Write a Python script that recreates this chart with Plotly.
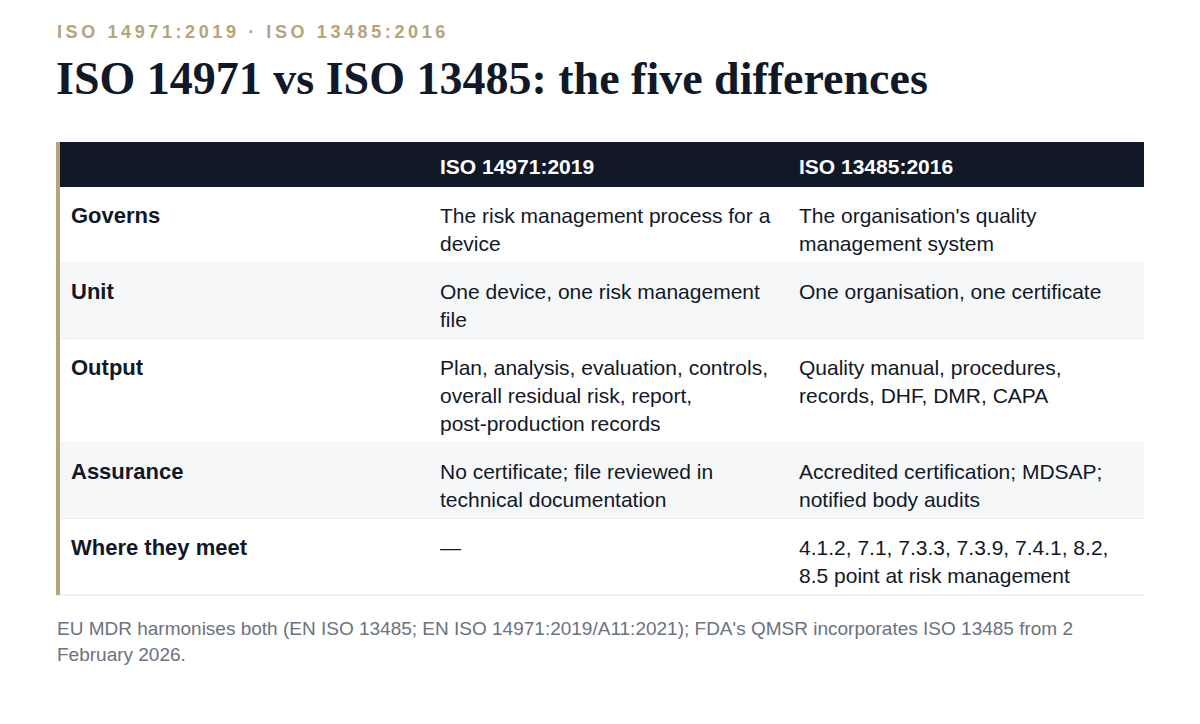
import plotly.graph_objects as go

eyebrow = "ISO 14971:2019 · ISO 13485:2016"
title = "ISO 14971 vs ISO 13485: the five differences"
headers = ["", "ISO 14971:2019", "ISO 13485:2016"]
rows = ["Governs", "Unit", "Output", "Assurance", "Where they meet"]
col_14971 = [
    ["The risk management process for a", "device"],
    ["One device, one risk management", "file"],
    ["Plan, analysis, evaluation, controls,", "overall residual risk, report,", "post-production records"],
    ["No certificate; file reviewed in", "technical documentation"],
    ["—"],
]
col_13485 = [
    ["The organisation's quality", "management system"],
    ["One organisation, one certificate"],
    ["Quality manual, procedures,", "records, DHF, DMR, CAPA"],
    ["Accredited certification; MDSAP;", "notified body audits"],
    ["4.1.2, 7.1, 7.3.3, 7.3.9, 7.4.1, 8.2,", "8.5 point at risk management"],
]
footnote = ["EU MDR harmonises both (EN ISO 13485; EN ISO 14971:2019/A11:2021); FDA's QMSR incorporates ISO 13485 from 2",
            "February 2026."]

W, H = 1200, 724
DX, DY = 9, 8  # page offset
GOLD = "#b3a47a"
DARK = "#111827"
SANS = "Liberation Sans, Arial, sans-serif"
LH = 28
x0, x1 = 57, 1145
col_x = [70, 439, 798]

fig = go.Figure()
fig.update_xaxes(range=[DX, W + DX], visible=False, fixedrange=True)
fig.update_yaxes(range=[H + DY, DY], visible=False, fixedrange=True)
shapes, ann = [], []

def text(x, y, s, size=21, color=DARK, bold=False, family=SANS):
    if bold:
        s = "<b>" + s + "</b>"
    ann.append(dict(x=x, y=y, text=s, xanchor="left", yanchor="middle", showarrow=False,
                    font=dict(size=size, color=color, family=family)))

# top rule
shapes.append(dict(type="rect", x0=0, x1=W + DX, y0=0, y1=5, fillcolor="#1f2430", line_width=0))
shapes.append(dict(type="rect", x0=0, x1=W + DX, y0=5, y1=8, fillcolor=GOLD, line_width=0))

text(56, 32, "\u2009".join(eyebrow), size=18, color=GOLD, bold=True)
text(55, 78, title, size=46, color=DARK, bold=True, family="Liberation Serif, Times New Roman, serif")

# header
top = 142
shapes.append(dict(type="rect", x0=x0, x1=x1, y0=top, y1=top + 45, fillcolor=DARK, line_width=0))
for cx, h in zip(col_x, headers):
    text(cx, top + 24, h, color="white", bold=True)
y = top + 45
for i, name in enumerate(rows):
    n = max(len(col_14971[i]), len(col_13485[i]))
    rh = n * LH + 20
    fill = "#f6f7f9" if i % 2 == 1 else "white"
    shapes.append(dict(type="rect", x0=x0, x1=x1, y0=y, y1=y + rh, fillcolor=fill, line_width=0))
    shapes.append(dict(type="line", x0=x0, x1=x1, y0=y + rh, y1=y + rh, line=dict(color="#e3e5e8", width=1)))
    text(col_x[0], y + LH, name, size=22, bold=True)
    for k, line in enumerate(col_14971[i]):
        text(col_x[1], y + LH + k * LH, line)
    for k, line in enumerate(col_13485[i]):
        text(col_x[2], y + LH + k * LH, line)
    y += rh
shapes.append(dict(type="rect", x0=x0, x1=x0 + 4, y0=top, y1=y, fillcolor=GOLD, line_width=0))

for k, line in enumerate(footnote):
    text(56, 628 + k * 26, line, size=19, color="#6b7280")

fig.update_layout(width=W, height=H, margin=dict(l=0, r=0, t=0, b=0),
                  paper_bgcolor="white", plot_bgcolor="white",
                  shapes=shapes, annotations=ann, showlegend=False)
fig.write_html("out.html")
